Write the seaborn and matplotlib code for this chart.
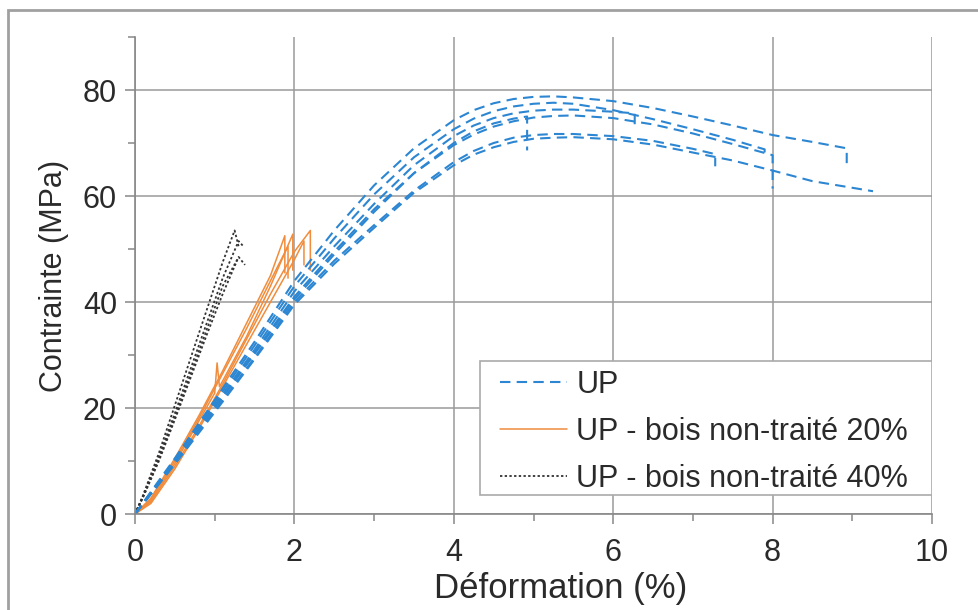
import numpy as np
import pandas as pd
import matplotlib.pyplot as plt
import seaborn as sns
from matplotlib.lines import Line2D
from matplotlib.patches import Rectangle
from matplotlib.ticker import MultipleLocator

# UP (pure resin) - strain (%) / stress (MPa), vertical drop at rupture
up_x1 = [0, 0.5, 1, 1.5, 2, 2.5, 3, 3.5, 4, 4.25, 4.5, 4.75, 5, 5.25, 5.5, 6, 6.5, 7, 7.5, 8, 8.5, 8.93, 8.93]
up_y1 = [0, 10.5, 21.5, 32.5, 44, 53.5, 62, 69, 74.3, 76.2, 77.5, 78.3, 78.7, 78.8, 78.6, 77.9, 76.6, 75, 73.3, 71.5, 70.2, 69.0, 66.2]
up_x2 = [0, 0.5, 1, 1.5, 2, 2.5, 3, 3.5, 4, 4.25, 4.5, 4.75, 5, 5.25, 5.5, 6, 6.5, 7, 7.5, 7.9, 7.9]
up_y2 = [0, 10.2, 21, 31.8, 43, 52, 60.3, 67.3, 72.6, 74.6, 76, 76.9, 77.4, 77.6, 77.4, 76.2, 74.5, 72.6, 70.6, 68.8, 67.3]
up_x3 = [0, 0.5, 1, 1.5, 2, 2.5, 3, 3.5, 4, 4.25, 4.5, 4.75, 5, 5.25, 5.5, 6, 6.27, 6.27]
up_y3 = [0, 10, 20.5, 31, 42, 50.5, 58.5, 65.8, 71.3, 73.3, 74.7, 75.6, 76.1, 76.3, 76.3, 75.9, 75.6, 73.3]
up_x4 = [0, 0.5, 1, 1.5, 2, 2.5, 3, 3.5, 4, 4.25, 4.5, 4.75, 5, 5.25, 5.5, 6, 6.5, 7, 7.5, 8.0, 8.0]
up_y4 = [0, 9.8, 20, 30.5, 41, 49.5, 57.5, 64.3, 69.6, 71.6, 73.1, 74.1, 74.8, 75.1, 75.2, 74.7, 73.5, 71.8, 69.8, 67.7, 61.4]
up_x5 = [0, 0.5, 1, 1.5, 2, 2.5, 3, 3.5, 4, 4.25, 4.5, 4.75, 4.92, 4.92]
up_y5 = [0, 9.8, 20, 30.2, 40.5, 49, 57, 64.3, 70, 72.2, 73.7, 74.6, 75.0, 68.6]
up_x6 = [0, 0.5, 1, 1.5, 2, 2.5, 3, 3.5, 4, 4.25, 4.5, 4.75, 5, 5.25, 5.5, 6, 6.5, 7, 7.28, 7.28]
up_y6 = [0, 9.5, 19.5, 29.5, 40, 47.8, 54.5, 61, 66.4, 68.5, 70, 71, 71.5, 71.7, 71.7, 71.3, 70.4, 68.9, 67.9, 65.6]
up_x7 = [0, 0.5, 1, 1.5, 2, 2.5, 3, 3.5, 4, 4.25, 4.5, 4.75, 5, 5.25, 5.5, 6, 6.5, 7, 7.5, 8, 8.5, 9.26]
up_y7 = [0, 9.4, 19.2, 29.2, 39.5, 47.2, 54, 60.6, 65.8, 67.8, 69.2, 70.2, 70.8, 71.0, 71.1, 70.7, 69.7, 68.2, 66.7, 64.8, 62.8, 60.9]

# UP - bois non-traite 20%
b20_x1 = [0, 0.2, 0.5, 0.8, 1.1, 1.4, 1.7, 1.88, 1.88]
b20_y1 = [0, 3, 10.5, 18.5, 27, 36, 45, 52.5, 45.5]
b20_x2 = [0, 0.2, 0.5, 0.8, 1.0, 1.03, 1.06, 1.4, 1.7, 1.98, 1.98]
b20_y2 = [0, 2.5, 9.5, 17.5, 22.8, 28.5, 24, 33.5, 43, 52.8, 46]
b20_x3 = [0, 0.2, 0.5, 0.8, 1.1, 1.4, 1.7, 2.0, 2.2, 2.2]
b20_y3 = [0, 2.3, 9, 16.5, 24.5, 33, 41.5, 49.5, 53.5, 46]
b20_x4 = [0, 0.2, 0.5, 0.8, 1.1, 1.4, 1.7, 2.0, 2.12, 2.12]
b20_y4 = [0, 2, 8.5, 16, 24, 32, 40, 48, 51.5, 47]
b20_x5 = [0, 0.2, 0.5, 0.8, 1.1, 1.4, 1.6, 1.8, 1.92, 1.92]
b20_y5 = [0, 2.8, 10, 18, 26.5, 35, 41, 47, 50.5, 44.5]

# UP - bois non-traite 40%
b40_x1 = [0, 0.1, 0.3, 0.5, 0.7, 0.9, 1.1, 1.25, 1.3]
b40_y1 = [0, 3.5, 11.5, 20.5, 29.5, 38.5, 47.5, 53.5, 50.5]
b40_x2 = [0, 0.1, 0.3, 0.5, 0.7, 0.9, 1.1, 1.3, 1.36]
b40_y2 = [0, 3.3, 10.8, 19, 27.5, 36, 44.5, 51.5, 50.5]
b40_x3 = [0, 0.1, 0.3, 0.5, 0.7, 0.9, 1.1, 1.3, 1.38]
b40_y3 = [0, 3.1, 10, 17.8, 25.8, 33.8, 41.5, 48.5, 47]
b40_x4 = [0, 0.1, 0.3, 0.5, 0.7, 0.9, 1.1, 1.29]
b40_y4 = [0, 3.2, 10.3, 18.3, 26.5, 34.8, 43, 48.2]

labels = ["UP", "UP - bois non-traité 20%", "UP - bois non-traité 40%"]

curves = {
    labels[0]: [(up_x1, up_y1), (up_x2, up_y2), (up_x3, up_y3), (up_x4, up_y4),
                (up_x5, up_y5), (up_x6, up_y6), (up_x7, up_y7)],
    labels[1]: [(b20_x1, b20_y1), (b20_x2, b20_y2), (b20_x3, b20_y3),
                (b20_x4, b20_y4), (b20_x5, b20_y5)],
    labels[2]: [(b40_x1, b40_y1), (b40_x2, b40_y2), (b40_x3, b40_y3), (b40_x4, b40_y4)],
}

rows = []
for grp, specs in curves.items():
    for i, (xs, ys) in enumerate(specs):
        for k, (x, y) in enumerate(zip(xs, ys)):
            rows.append({"group": grp, "spec": i, "k": k, "x": x, "y": y})
df = pd.DataFrame(rows)

colors = {labels[0]: "#2c86d2", labels[1]: "#f08c3c", labels[2]: "#333333"}
styles = {labels[0]: (0, (5, 3)), labels[1]: "-", labels[2]: (0, (1.3, 1.3))}
widths = {labels[0]: 1.5, labels[1]: 1.1, labels[2]: 1.3}

sns.set_theme(style="white")
plt.rcParams["font.family"] = ["Liberation Sans", "DejaVu Sans"]

fig = plt.figure(figsize=(9.79, 6.10), dpi=100)
ax = fig.add_axes([135 / 979, 1 - 514 / 610, 797 / 979, 477 / 610])

for grp in [labels[2], labels[1], labels[0]]:
    sub = df[df["group"] == grp]
    sns.lineplot(data=sub, x="x", y="y", units="spec", estimator=None, sort=False,
                 color=colors[grp], linestyle=styles[grp], linewidth=widths[grp],
                 ax=ax, legend=False)

ax.set_xlim(0, 10)
ax.set_ylim(0, 90)
ax.xaxis.set_major_locator(MultipleLocator(2))
ax.xaxis.set_minor_locator(MultipleLocator(1))
ax.yaxis.set_major_locator(MultipleLocator(20))
ax.yaxis.set_minor_locator(MultipleLocator(10))
ax.set_axisbelow(True)
ax.grid(which="major", color="#9a9a9a", linewidth=1.1)

for s in ["top", "right"]:
    ax.spines[s].set_visible(False)
for s in ["left", "bottom"]:
    ax.spines[s].set_color("#888888")
    ax.spines[s].set_linewidth(1.2)

ax.tick_params(axis="both", which="major", length=7, width=1.1, color="#888888",
               labelsize=22, labelcolor="#2a2a2a", direction="out", left=True, bottom=True)
ax.tick_params(axis="both", which="minor", length=5, width=1.1, color="#888888",
               direction="out", left=True, bottom=True)
ax.tick_params(axis="x", which="major", pad=10)
ax.tick_params(axis="y", which="major", pad=6)

ax.set_xlabel("Déformation (%)", fontsize=25, color="#2a2a2a")
ax.xaxis.set_label_coords((561 - 135) / 797, -0.122)
ax.set_ylabel("Contrainte (MPa)", fontsize=22, color="#2a2a2a", labelpad=10)

# legend frame drawn separately so the padding matches the reference
ax.add_patch(Rectangle(((480 - 135) / 797, (514 - 495) / 477), (932 - 480) / 797, 134 / 477,
                       transform=ax.transAxes, facecolor="white", edgecolor="#aaaaaa",
                       linewidth=1.2, zorder=4))
handles = [Line2D([], [], color=colors[g], linestyle=styles[g], linewidth=widths[g]) for g in labels]
leg = ax.legend(handles, labels, loc="upper left", bbox_to_anchor=((500 - 135) / 797, (514 - 370) / 477),
                fontsize=22, frameon=False, handlelength=2.2, handletextpad=0.3,
                labelspacing=0.55, borderpad=0, borderaxespad=0)
leg.set_zorder(5)
for t in leg.get_texts():
    t.set_color("#2a2a2a")

fig.patches.append(Rectangle((8 / 979, -0.1), 1.2, 1.1 - 10 / 610, transform=fig.transFigure,
                             fill=False, edgecolor="#a0a0a0", linewidth=2))

fig.savefig("out.png", dpi=100)
